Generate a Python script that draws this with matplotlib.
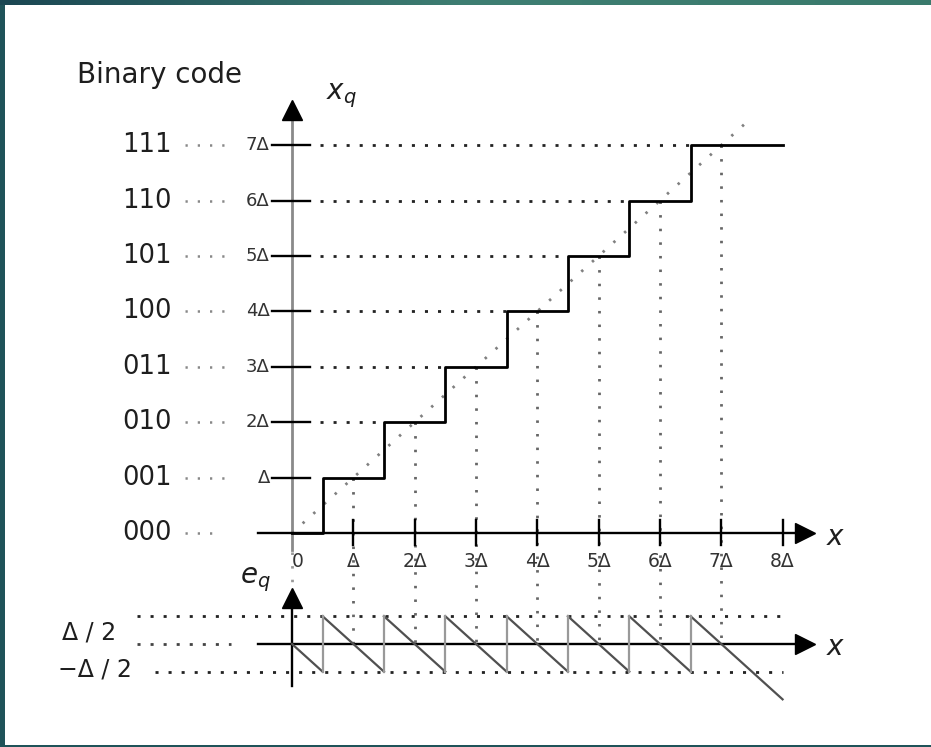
import numpy as np
import matplotlib.pyplot as plt
from matplotlib.patches import Rectangle

# quantizer data (units of delta)
levels = [0, 1, 2, 3, 4, 5, 6, 7]
codes = ["000", "001", "010", "011", "100", "101", "110", "111"]
level_labels = ["", "Δ", "2Δ", "3Δ", "4Δ", "5Δ", "6Δ", "7Δ"]
thresholds = [0.5, 1.5, 2.5, 3.5, 4.5, 5.5, 6.5]
x_ticks = [1, 2, 3, 4, 5, 6, 7, 8]
x_tick_labels = ["Δ", "2Δ", "3Δ", "4Δ", "5Δ", "6Δ", "7Δ", "8Δ"]
x_end = 8.0
diag_end = 7.4
err_base = -2.0   # where the e_q axis sits
half = 0.5

W, H = 931, 747
fig = plt.figure(figsize=(W / 100, H / 100), dpi=100, facecolor="#1f5359")
fig.patches.append(Rectangle((5 / W, 2 / H), 1 - 5 / W, 1 - 7 / H,
                             transform=fig.transFigure, facecolor="white",
                             edgecolor="none", zorder=-10))
band = fig.add_axes([0, 1 - 5 / H, 1, 5 / H])
band.imshow(np.linspace(0, 1, 256)[None, :], aspect="auto",
            cmap=plt.matplotlib.colors.LinearSegmentedColormap.from_list(
                "t", ["#1b4753", "#3e7e72", "#3a7a6c"]))
band.axis("off")

ax = fig.add_axes([0, 0, 1, 1])
ax.set_xlim(-4.76, 10.42)
ax.set_ylim(-3.86, 9.62)
ax.axis("off")
ax.patch.set_alpha(0)

dot = (0, (1.1, 3.6))
gdot = (0, (0.9, 4.0))

# upper axes
ax.plot([0, 0], [-0.3, 7.7], color="#8a8a8a", lw=2.0, zorder=2)
ax.plot([0], [7.64], marker="^", ms=15, color="black", zorder=3)
ax.plot([0, 0], [-0.35, -1.0], color="#999999", lw=2.0, ls=gdot)
ax.plot([-0.55, 8.35], [0, 0], color="black", lw=1.7, zorder=3)
ax.plot([8.37], [0], marker=">", ms=15, color="black", zorder=3)
for t in x_ticks:
    ax.plot([t, t], [-0.22, 0.23], color="black", lw=1.7, zorder=3)
for t, lab in zip(x_ticks, x_tick_labels):
    ax.text(t, -0.52, lab, ha="center", va="center", fontsize=13.5, color="#333333")
ax.text(0.1, -0.52, "0", ha="center", va="center", fontsize=13.5, color="#333333")

# diagonal x = x
ax.plot([0, diag_end], [0, diag_end], color="#808080", lw=2.0, ls=(0, (0.9, 4.3)))

# staircase
xs = [0] + thresholds + [x_end]
ys = levels + [levels[-1]]
ax.step(xs, ys, where="post", color="black", lw=2.0, zorder=4)

# levels, ticks and dotted guides
for k, code, lab in zip(levels, codes, level_labels):
    ax.text(-1.96, k, code, ha="right", va="center", fontsize=18.5, color="#1e1e1e")
    end = -1.2 if k == 0 else -0.95
    ax.plot([-1.75, end], [k, k], color="#888888", lw=1.8, ls=gdot)
    if k == 0:
        continue
    ax.text(-0.36, k, lab, ha="right", va="center", fontsize=13, color="#333333")
    ax.plot([-0.33, 0.3], [k, k], color="black", lw=1.7, zorder=3)
    if k > 1:
        ax.plot([0.45, k - 0.5], [k, k], color="#222222", lw=2.0, ls=dot)
    ax.plot([k, k], [k, err_base], color="#666666", lw=2.0, ls=gdot, zorder=1)

ax.text(-3.51, 8.27, "Binary code", ha="left", va="center", fontsize=20, color="#1e1e1e")
ax.text(0.55, 7.9, "$x_q$", ha="left", va="center", fontsize=20, color="#1e1e1e")
ax.text(8.7, -0.07, "$x$", ha="left", va="center", fontsize=20, color="#1e1e1e")

# error panel
ax.plot([-2.53, x_end], [err_base + half] * 2, color="#222222", lw=2.0, ls=dot)
ax.plot([-2.23, x_end], [err_base - half] * 2, color="#222222", lw=2.0, ls=dot)
ax.plot([-2.53, -1.0], [err_base] * 2, color="#444444", lw=2.0, ls=dot)
ax.plot([-0.55, 8.35], [err_base] * 2, color="black", lw=1.7, zorder=3)
ax.plot([8.37], [err_base], marker=">", ms=15, color="black", zorder=3)
ax.plot([0, 0], [err_base - 0.76, err_base + 0.8], color="black", lw=1.7, zorder=3)
ax.plot([0], [err_base + 0.83], marker="^", ms=15, color="black", zorder=3)

# quantization error e = xq - x (sawtooth)
for k in levels:
    x0 = max(0, k - half)
    x1 = x_end if k == levels[-1] else k + half
    ax.plot([x0, x1], [err_base + k - x0, err_base + k - x1], color="#505050", lw=1.6, zorder=4)
for t in thresholds:
    ax.plot([t, t], [err_base - half, err_base + half], color="#999999", lw=1.6, zorder=4)

ax.text(-0.6, -0.85, "$e_q$", ha="center", va="center", fontsize=20, color="#1e1e1e")
ax.text(8.7, err_base - 0.05, "$x$", ha="left", va="center", fontsize=20, color="#1e1e1e")
ax.text(-3.75, -1.79, "Δ / 2", ha="left", va="center", fontsize=17, color="#1e1e1e")
ax.text(-3.82, -2.47, "−Δ / 2", ha="left", va="center", fontsize=17, color="#1e1e1e")

fig.savefig("out.png", dpi=100, facecolor=fig.get_facecolor())
